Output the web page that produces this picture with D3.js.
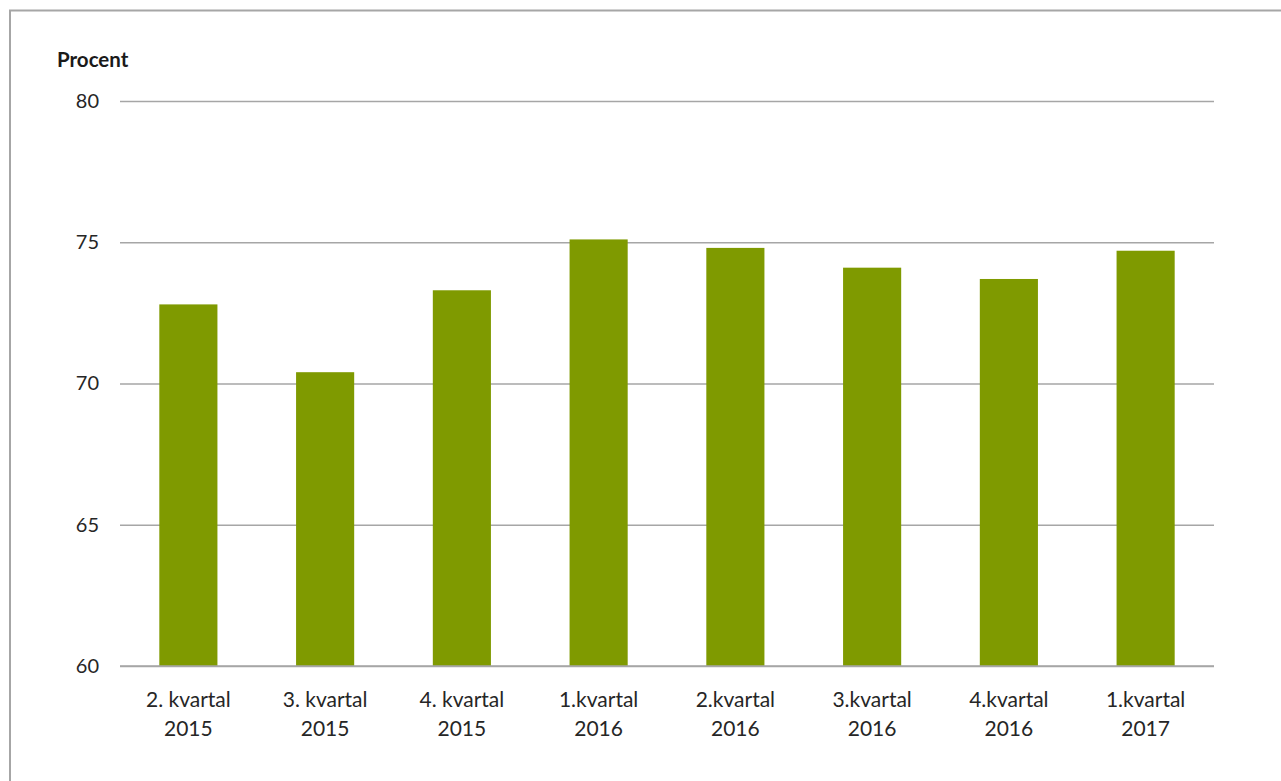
<!DOCTYPE html>
<html><head><meta charset="utf-8">
<script src="https://cdn.jsdelivr.net/npm/d3@7"></script>
<style>body{margin:0;background:#fff}svg{display:block}</style>
</head><body>
<script>
const categories = [["2. kvartal","2015"],["3. kvartal","2015"],["4. kvartal","2015"],["1.kvartal","2016"],["2.kvartal","2016"],["3.kvartal","2016"],["4.kvartal","2016"],["1.kvartal","2017"]];
const values = [72.8, 70.4, 73.3, 75.1, 74.8, 74.1, 73.7, 74.7];
const yTicks = [60, 65, 70, 75, 80];
const yLabel = "Procent";

const W = 1281, H = 781;
const svg = d3.select("body").append("svg").attr("width", W).attr("height", H);
const font = "Lato, 'Open Sans', sans-serif";

// frame
svg.append("path").attr("d", `M10,${H} V10.5 H${W}`).attr("fill","none").attr("stroke","#a6a6a6").attr("stroke-width",2);

const x0 = 120, x1 = 1214, yTop = 101, yBot = 666;
const x = d3.scaleBand().domain(d3.range(categories.length)).range([x0, x1]).paddingInner(0.575).paddingOuter(0.2875);
const y = d3.scaleLinear().domain([60, 80]).range([yBot, yTop]);

const yAxis = d3.axisLeft(y).tickValues(yTicks).tickSize(-(x1 - x0)).tickPadding(21);
const gy = svg.append("g").attr("transform", `translate(${x0},0)`).call(yAxis);
gy.select(".domain").remove();
gy.selectAll(".tick line").attr("stroke","#a6a6a6").attr("stroke-width",1.5);
gy.selectAll(".tick text").attr("font-family",font).attr("font-size",20).attr("fill","#262626");

svg.append("g").selectAll("rect").data(values).join("rect")
  .attr("x",(d,i)=>x(i)).attr("width",x.bandwidth())
  .attr("y",d=>y(d)).attr("height",d=>yBot - y(d))
  .attr("fill","#7f9a00");

// baseline redraw on top
svg.append("line").attr("x1",x0).attr("x2",x1).attr("y1",y(60)).attr("y2",y(60)).attr("stroke","#a6a6a6").attr("stroke-width",1.5);

const xl = svg.append("g");
categories.forEach((c,i)=>{
  const cx = x(i)+x.bandwidth()/2;
  const t = xl.append("text").attr("text-anchor","middle")
    .attr("font-family",font).attr("font-size",21).attr("fill","#262626");
  t.append("tspan").attr("x", cx).attr("y",707).text(c[0]);
  t.append("tspan").attr("x", cx).attr("y",736).text(c[1]);
});

svg.append("text").attr("x",57).attr("y",67).attr("font-family",font).attr("font-weight","bold")
  .attr("font-size",20.5).attr("fill","#1a1a1a").text(yLabel);
</script>
</body></html>
